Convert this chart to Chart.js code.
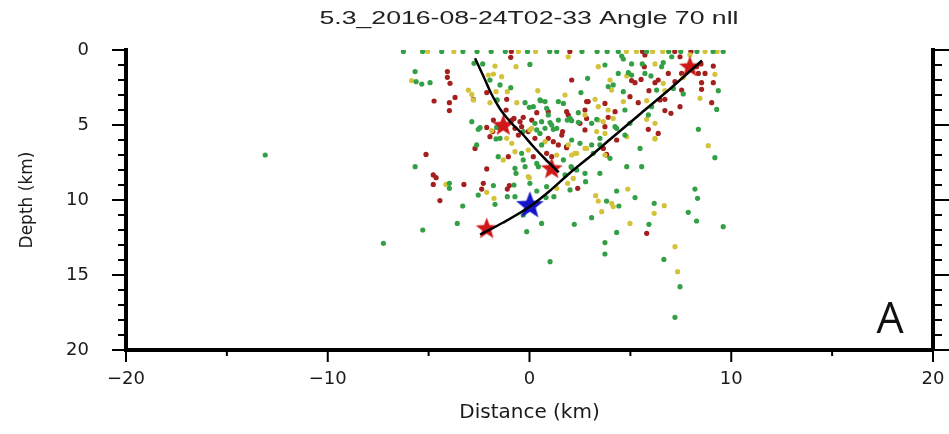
<!DOCTYPE html>
<html>
<head>
<meta charset="utf-8">
<title>5.3_2016-08-24T02-33 Angle 70 nll</title>
<script src="https://cdn.jsdelivr.net/npm/chart.js@4.4.0/dist/chart.umd.min.js"></script>
<style>
  html, body { margin: 0; padding: 0; background: #fff; }
</style>
</head>
<body>
<canvas id="sectionChart" width="949" height="434"></canvas>
<script>
// hypocentres projected on the section: [distance km, depth km]
var greenEvents = [
    [-6.25, 0.1], [-5.3, 0.1], [-4.35, 0.1], [-3.3, 0.1], [-2.6, 0.1], [-1.9, 0.1], [-1.2, 0.1], [-0.1, 0.1],
    [1.0, 0.1], [1.35, 0.1], [2.6, 0.1], [3.35, 0.1], [3.85, 0.1], [4.4, 0.1], [5.8, 0.1], [6.9, 0.1],
    [7.5, 0.1], [8.3, 0.1], [9.1, 0.1], [9.6, 0.1],
    [-2.75, 0.89], [-2.32, 0.93], [0.02, 0.96], [-5.67, 1.44], [-5.62, 2.11], [-5.34, 2.27], [-4.93, 2.18],
    [-1.96, 2.0], [-1.46, 2.33], [-0.93, 2.51], [-1.6, 3.33], [-0.22, 3.51], [0.19, 3.78], [0.55, 3.38],
    [0.77, 3.44], [1.43, 3.44], [1.68, 3.56], [-0.01, 3.82], [-2.86, 4.78], [0.6, 4.78], [1.02, 4.84],
    [1.43, 4.67], [1.87, 4.67], [-2.54, 5.29], [-1.63, 5.16], [0.36, 5.33], [0.77, 5.22], [1.18, 5.29],
    [4.57, 0.4], [4.65, 0.6], [7.05, 0.45], [3.74, 1.0], [5.06, 0.93], [5.59, 0.93], [6.55, 1.11], [6.63, 0.84],
    [4.4, 1.56], [4.9, 1.51], [5.06, 1.67], [5.72, 1.56], [6.02, 1.73], [2.88, 1.89], [3.9, 2.44], [4.15, 2.33],
    [2.55, 2.84], [4.65, 2.78], [6.3, 2.67], [7.13, 2.56], [9.36, 2.71], [7.62, 2.93], [4.73, 4.0], [6.05, 3.78],
    [9.28, 3.96], [2.42, 4.18], [3.33, 4.62], [5.89, 4.33], [2.09, 4.71], [3.08, 4.89], [4.24, 5.11], [4.98, 4.89],
    [8.37, 5.29], [4.73, 5.67],
    [0.52, 3.33], [0.85, 3.89], [-2.45, 5.18], [0.27, 4.89], [0.93, 4.33], [1.1, 5.0], [1.35, 5.22], [2.01, 4.56],
    [2.42, 4.82], [4.32, 5.22], [-2.62, 6.33], [-1.46, 5.89], [-0.31, 5.44], [0.52, 5.56], [0.6, 6.33], [2.09, 6.0],
    [2.5, 6.22], [3.08, 6.33], [3.49, 6.33], [-1.55, 7.11], [-0.39, 6.89], [-0.31, 7.33], [0.36, 7.56], [1.68, 7.33],
    [3.16, 6.89], [-0.72, 7.89], [0.44, 7.78], [1.76, 8.33], [2.09, 7.84], [2.34, 8.0], [2.75, 8.22], [3.49, 8.22],
    [-5.67, 7.78], [-1.66, 5.93], [-0.67, 8.22], [-0.22, 7.78], [-3.97, 8.89], [-3.97, 9.22], [-1.79, 9.04],
    [-0.77, 9.0], [0.02, 8.89], [0.36, 9.4], [0.85, 9.11], [-2.54, 9.67], [-1.1, 9.78], [-0.72, 9.78], [-1.71, 10.29],
    [0.82, 9.84], [1.21, 9.78], [-3.31, 10.4], [-0.31, 11.0], [0.6, 11.56], [-3.58, 11.56], [-5.29, 12.0], [-0.14, 12.11],
    [3.49, 5.89], [3.99, 7.22], [5.48, 6.56], [9.19, 7.18], [4.82, 7.78], [5.56, 7.78], [2.06, 7.78], [2.01, 9.33],
    [2.78, 8.78], [4.32, 9.4], [3.82, 10.07], [4.43, 10.4], [5.23, 9.84], [6.18, 10.22], [8.2, 9.27], [8.33, 9.89],
    [7.87, 10.82], [3.08, 11.18], [8.28, 11.4], [9.6, 11.78], [2.22, 11.62], [5.92, 11.62], [4.32, 12.16],
    [-7.24, 12.89], [1.02, 14.11], [3.74, 12.84], [3.74, 13.6], [6.66, 13.96], [7.46, 15.78], [7.21, 17.82],
    [-13.1, 7.0]
];
var yellowEvents = [
    [-5.05, 0.1], [-3.75, 0.1], [-0.55, 0.1], [0.3, 0.1], [4.8, 0.1], [5.3, 0.1], [6.1, 0.1], [6.6, 0.1],
    [8.7, 0.1], [9.3, 0.1],
    [1.92, 0.45], [7.95, 0.33], [-1.71, 1.07], [-0.67, 1.11], [-2.04, 1.67], [-1.79, 1.6], [-1.38, 1.78],
    [-5.84, 2.04], [-3.03, 2.67], [-2.86, 2.96], [-1.66, 2.78], [-1.1, 2.78], [0.41, 2.71], [1.76, 3.0],
    [-1.96, 3.51], [-0.63, 3.51], [-1.87, 5.38], [0.02, 5.33],
    [3.41, 1.11], [6.22, 0.93], [4.82, 1.73], [9.19, 1.62], [3.99, 2.0], [6.63, 2.22], [7.62, 1.82], [4.07, 2.67],
    [6.71, 2.71], [3.25, 3.29], [4.65, 3.44], [5.81, 3.38], [8.45, 3.22], [3.41, 3.78], [3.9, 4.0], [2.75, 4.33],
    [3.66, 4.78], [5.81, 4.62], [6.22, 4.89], [3.33, 5.44], [3.74, 5.56], [6.22, 5.89],
    [-2.78, 3.33], [3.41, 4.67], [4.15, 4.56], [-1.13, 5.89], [-0.88, 6.22], [0.11, 5.22], [0.77, 6.11],
    [2.83, 6.56], [3.74, 7.0], [-1.3, 7.33], [-0.72, 6.78], [-0.06, 6.67], [1.35, 7.0], [2.09, 7.0], [2.34, 6.89],
    [-0.06, 8.44], [-0.01, 8.51], [-4.14, 8.96], [-2.12, 9.49], [1.35, 9.22], [-1.76, 9.89],
    [1.92, 6.33], [2.25, 6.89], [2.75, 6.56], [4.82, 5.78], [6.22, 5.93], [8.86, 6.38], [2.17, 8.56], [1.89, 8.89],
    [4.87, 9.27], [3.28, 9.71], [3.41, 10.07], [4.07, 10.22], [4.15, 10.44], [6.68, 10.38], [3.58, 10.78],
    [6.18, 10.89], [4.98, 11.56], [7.21, 13.11], [7.34, 14.78]
];
var redEvents = [
    [-0.9, 0.1], [2.0, 0.1], [5.6, 0.1], [7.2, 0.1], [8.0, 0.1],
    [-0.93, 0.49], [-4.07, 1.44], [-4.07, 1.82], [-3.94, 2.22], [-2.12, 2.84], [-3.69, 3.16], [-4.73, 3.4],
    [-3.97, 3.51], [-2.78, 3.29], [-1.13, 3.29], [-3.97, 4.04], [-1.16, 4.0], [0.36, 4.18], [0.93, 4.11],
    [1.84, 4.11], [-1.79, 4.67], [-0.77, 4.56], [-0.31, 4.49], [0.11, 4.67], [-2.12, 5.16], [-0.72, 5.22],
    [-0.39, 5.11], [1.64, 5.44],
    [5.72, 0.33], [7.46, 0.45], [5.69, 1.11], [8.28, 1.11], [8.5, 0.93], [9.11, 1.07], [6.88, 1.56], [7.54, 1.56],
    [8.37, 1.56], [8.7, 1.56], [2.09, 2.0], [5.06, 2.04], [5.23, 2.18], [5.53, 1.96], [6.22, 2.18], [6.38, 2.0],
    [7.21, 2.11], [8.53, 2.18], [9.11, 2.18], [4.98, 3.11], [5.92, 2.71], [7.54, 2.67], [8.53, 2.62], [2.91, 3.44],
    [3.74, 3.56], [5.39, 3.51], [6.47, 3.33], [6.71, 3.29], [9.03, 3.51], [4.24, 4.11], [6.71, 4.04], [7.46, 3.78],
    [1.92, 4.33], [3.9, 4.49], [7.01, 4.22], [2.5, 4.89], [2.75, 5.33], [5.89, 5.29], [6.38, 5.56],
    [2.83, 3.44], [2.75, 4.0], [-1.82, 5.44], [-0.88, 4.67], [-0.47, 4.78], [1.6, 5.67], [2.83, 4.56], [3.74, 5.11],
    [-2.7, 6.56], [-1.96, 5.78], [-0.55, 5.67], [-0.06, 5.44], [0.27, 5.89], [0.93, 5.89], [1.18, 6.11],
    [1.43, 6.33], [1.84, 6.44], [4.32, 6.0], [-1.05, 7.11], [0.19, 7.11], [0.85, 6.89], [1.1, 7.11], [3.82, 7.0],
    [-2.12, 7.93], [-2.29, 8.89],
    [-5.13, 6.96], [-4.77, 8.33], [-4.63, 8.51], [-4.77, 8.96], [-3.25, 8.96], [-2.37, 9.27], [-1.1, 9.27],
    [-1.0, 9.04], [-4.44, 10.04],
    [1.84, 6.51], [3.66, 6.56], [3.82, 6.96], [2.39, 9.22], [5.81, 12.22]
];

// main events
var redStarEvents = [[-1.3, 5.05], [1.1, 7.93], [-2.12, 11.93], [7.95, 1.15]];
var mainShock = [[0.02, 10.38]];

// fault traces
var faultWest = [[-2.7, 0.55], [-2.3, 1.7], [-1.9, 2.9], [-1.45, 3.95], [-0.95, 4.8], [-0.35, 5.6],
                 [0.2, 6.45], [0.8, 7.3], [1.45, 8.15]];
var faultEast = [[-2.45, 12.3], [-1.3, 11.5], [0.0, 10.45], [1.0, 9.4], [2.0, 8.2], [3.0, 7.1],
                 [4.0, 5.95], [5.5, 4.25], [7.0, 2.55], [8.55, 0.7]];

var xTicks = [-20, -10, 0, 10, 20];
var depthTicks = [0, 5, 10, 15, 20];

function toXY(pairs) {
    return pairs.map(function (p) { return { x: p[0], y: p[1] }; });
}

function makeStar(r, color) {
    var c = document.createElement('canvas');
    c.width = c.height = Math.ceil(2 * r + 2);
    var g = c.getContext('2d');
    var cx = c.width / 2, cy = c.height / 2;
    g.beginPath();
    for (var i = 0; i < 10; i++) {
        var rad = i % 2 === 0 ? r : r * 0.42;
        var a = -Math.PI / 2 + i * Math.PI / 5;
        g.lineTo(cx + rad * Math.cos(a), cy + rad * Math.sin(a));
    }
    g.closePath();
    g.fillStyle = color;
    g.fill();
    return c;
}

var tickFont = { family: '"DejaVu Sans", sans-serif', size: 18 };

// tick marks of the frame (minor every km in depth, every 5 km in distance)
var frameTicks = {
    id: 'frameTicks',
    afterDraw: function (chart) {
        var ctx = chart.ctx, a = chart.chartArea, x = chart.scales.x, y = chart.scales.y;
        ctx.save();
        ctx.strokeStyle = '#000';
        ctx.lineWidth = 2;
        ctx.beginPath();
        for (var d = y.min; d <= y.max; d++) {
            var py = y.getPixelForValue(d);
            var len = d % 5 === 0 ? 14 : 8;
            ctx.moveTo(a.left - len, py); ctx.lineTo(a.left, py);
            ctx.moveTo(a.right, py); ctx.lineTo(a.right + (d % 5 === 0 ? 16 : 9), py);
        }
        for (var v = x.min; v <= x.max; v += 5) {
            var px = x.getPixelForValue(v);
            ctx.moveTo(px, a.bottom); ctx.lineTo(px, a.bottom + (v % 10 === 0 ? 12 : 6));
        }
        ctx.stroke();
        ctx.restore();
    }
};

var labels = {
    id: 'labels',
    afterDraw: function (chart) {
        var ctx = chart.ctx, a = chart.chartArea;
        ctx.save();
        // stretched title like the original figure
        var title = '5.3_2016-08-24T02-33 Angle 70 nll';
        ctx.font = '18px "Liberation Sans", Arial, sans-serif';
        var w = ctx.measureText(title).width;
        ctx.translate(529, 19);
        ctx.scale(419 / w, 1);
        ctx.fillStyle = '#222';
        ctx.textAlign = 'center';
        ctx.textBaseline = 'middle';
        ctx.fillText(title, 0, 0);
        ctx.restore();

        ctx.save();
        ctx.font = '43px "Open Sans", "Liberation Sans", sans-serif';
        ctx.fillStyle = '#111';
        ctx.textAlign = 'center';
        ctx.textBaseline = 'alphabetic';
        ctx.fillText('A', a.right - 43, a.bottom - 17);
        ctx.restore();
    }
};

// invisible tick marks only reserve the gap between the axis line and its labels
var hiddenGrid = { display: true, drawOnChartArea: false, drawTicks: true, tickLength: 19, tickColor: 'rgba(0,0,0,0)' };

var ctx = document.getElementById('sectionChart').getContext('2d');
var sectionChart = new Chart(ctx, {
    type: 'scatter',
    data: {
        datasets: [
            { label: 'fault W', data: toXY(faultWest), showLine: true, borderColor: '#000', borderWidth: 2.5,
              pointRadius: 0, cubicInterpolationMode: 'monotone' },
            { label: 'fault E', data: toXY(faultEast), showLine: true, borderColor: '#000', borderWidth: 2.5,
              pointRadius: 0, cubicInterpolationMode: 'monotone' },
            { label: 'M>4', data: toXY(redStarEvents), pointStyle: makeStar(11.5, '#d01818'), pointRadius: 11 },
            { label: 'mainshock', data: toXY(mainShock), pointStyle: makeStar(14.5, '#1414c8'), pointRadius: 14 },
            { label: 'green', data: toXY(greenEvents), backgroundColor: '#34a046', borderWidth: 0, pointRadius: 2.6 },
            { label: 'yellow', data: toXY(yellowEvents), backgroundColor: '#d4c23a', borderWidth: 0, pointRadius: 2.6 },
            { label: 'red', data: toXY(redEvents), backgroundColor: '#a3201e', borderWidth: 0, pointRadius: 2.6 }
        ]
    },
    options: {
        responsive: false,
        animation: false,
        events: [],
        layout: { padding: { top: 50, left: 12, right: 0, bottom: 0 } },
        plugins: { legend: { display: false }, tooltip: { enabled: false } },
        scales: {
            x: {
                type: 'linear', position: 'bottom', min: -20, max: 20,
                afterFit: function (s) { s.height = 84; },
                afterBuildTicks: function (s) { s.ticks = xTicks.map(function (v) { return { value: v }; }); },
                grid: hiddenGrid,
                border: { display: true, width: 4, color: '#000' },
                ticks: {
                    padding: 0, color: '#1a1a1a', font: tickFont, maxRotation: 0, autoSkip: false,
                    callback: function (v) { return v < 0 ? '\u2212' + Math.abs(v) : String(v); }
                },
                title: { display: true, text: 'Distance (km)', color: '#1a1a1a',
                         font: { family: '"DejaVu Sans", sans-serif', size: 20 }, padding: { top: 4, bottom: 9 } }
            },
            y: {
                type: 'linear', position: 'left', reverse: true, min: 0, max: 20,
                afterFit: function (s) { s.width = 114; },
                afterBuildTicks: function (s) { s.ticks = depthTicks.map(function (v) { return { value: v }; }); },
                grid: { display: false },
                border: { display: true, width: 4, color: '#000' },
                ticks: { padding: 29, color: '#1a1a1a', font: tickFont, autoSkip: false },
                title: { display: true, text: 'Depth (km)', color: '#1a1a1a',
                         font: { family: '"DejaVu Sans", sans-serif', size: 17 }, padding: { top: 5, bottom: 4 } }
            },
            yRight: {
                type: 'linear', position: 'right', reverse: true, min: 0, max: 20,
                afterFit: function (s) { s.width = 16; },
                grid: { display: false },
                border: { display: true, width: 4, color: '#000' },
                ticks: { display: false }
            }
        }
    },
    plugins: [frameTicks, labels]
});
</script>
</body>
</html>
